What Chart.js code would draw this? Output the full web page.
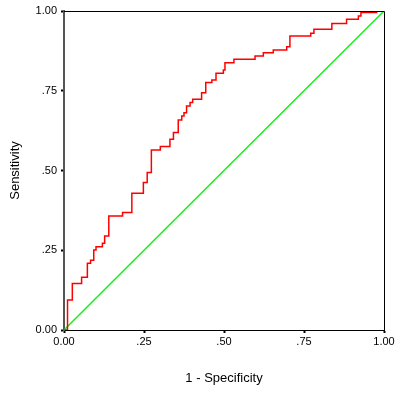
<!DOCTYPE html>
<html>
<head>
<meta charset="utf-8">
<script src="https://cdn.jsdelivr.net/npm/chart.js@4/dist/chart.umd.min.js"></script>
<style>
    body { margin: 0; background: #fff; }
    #wrap { width: 400px; height: 396px; }
</style>
</head>
<body>
<div id="wrap"><canvas id="rocChart" width="400" height="396"></canvas></div>
<script>
// ROC curve points (1 - specificity, sensitivity)
const fpr = [0, 0.011, 0.026, 0.055, 0.073, 0.083, 0.093, 0.100, 0.120, 0.127,
    0.140, 0.183, 0.212, 0.248, 0.260, 0.273, 0.301, 0.331, 0.342, 0.357,
    0.368, 0.375, 0.383, 0.394, 0.402, 0.430, 0.443, 0.462, 0.475, 0.498,
    0.503, 0.531, 0.597, 0.623, 0.654, 0.696, 0.706, 0.771, 0.781, 0.837,
    0.883, 0.920, 0.928, 0.977, 1.0];
const tpr = [0, 0.094, 0.146, 0.165, 0.209, 0.219, 0.251, 0.261, 0.272, 0.295,
    0.357, 0.368, 0.429, 0.462, 0.494, 0.564, 0.575, 0.598, 0.619, 0.658,
    0.671, 0.681, 0.702, 0.713, 0.723, 0.744, 0.776, 0.784, 0.805, 0.815,
    0.838, 0.849, 0.859, 0.869, 0.878, 0.888, 0.922, 0.930, 0.943, 0.961,
    0.974, 0.984, 0.995, 1.0, 1.0];

// reference (chance) line
const refX = [0, 1];
const refY = [0, 1];

const xTickLabels = ['0.00', '.25', '.50', '.75', '1.00'];
const yTickLabels = ['0.00', '.25', '.50', '.75', '1.00'];

Chart.defaults.font.family = "'Liberation Sans', Arial, sans-serif";
Chart.defaults.color = '#000';

// top and right frame lines
const framePlugin = {
    id: 'frame',
    afterDraw(chart) {
        const { ctx, chartArea: a } = chart;
        ctx.save();
        ctx.strokeStyle = '#000';
        ctx.lineWidth = 1;
        ctx.beginPath();
        ctx.moveTo(a.left, a.top + 0.5);
        ctx.lineTo(a.right + 0.5, a.top + 0.5);
        ctx.lineTo(a.right + 0.5, a.bottom);
        ctx.stroke();
        ctx.restore();
    }
};

const ctx = document.getElementById('rocChart').getContext('2d');
new Chart(ctx, {
    type: 'scatter',
    data: {
        datasets: [{
            data: fpr.map((x, i) => ({ x: x, y: tpr[i] })),
            showLine: true,
            stepped: 'before',
            borderColor: '#ff0000',
            borderWidth: 1.5,
            pointRadius: 0
        }, {
            data: refX.map((x, i) => ({ x: x, y: refY[i] })),
            showLine: true,
            borderColor: '#11ee11',
            borderWidth: 1.4,
            pointRadius: 0
        }]
    },
    options: {
        responsive: false,
        animation: false,
        layout: { padding: { top: 11, right: 16, left: 0, bottom: 0 } },
        plugins: {
            legend: { display: false },
            tooltip: { enabled: false }
        },
        scales: {
            x: {
                type: 'linear',
                min: 0,
                max: 1,
                afterFit: (s) => { s.height = 66; },
                border: { color: '#000', width: 1 },
                grid: { drawOnChartArea: false, tickLength: 3, tickWidth: 2, tickColor: '#000' },
                ticks: {
                    stepSize: 0.25,
                    padding: 2,
                    maxRotation: 0,
                    autoSkip: false,
                    font: { size: 11 },
                    callback: (v, i) => xTickLabels[i]
                },
                title: {
                    display: true,
                    text: '1 - Specificity',
                    font: { size: 13 },
                    padding: { top: 4, bottom: 10 }
                }
            },
            y: {
                type: 'linear',
                min: 0,
                max: 1,
                afterFit: (s) => { s.width = 64; },
                border: { color: '#555', width: 2 },
                grid: { drawOnChartArea: false, tickLength: 3, tickWidth: 2, tickColor: '#000' },
                ticks: {
                    stepSize: 0.25,
                    padding: 4,
                    autoSkip: false,
                    font: { size: 11 },
                    callback: (v, i) => yTickLabels[i]
                },
                title: {
                    display: true,
                    text: 'Sensitivity',
                    font: { size: 13 },
                    padding: { top: 8, bottom: 4 }
                }
            }
        }
    },
    plugins: [framePlugin]
});
</script>
</body>
</html>
